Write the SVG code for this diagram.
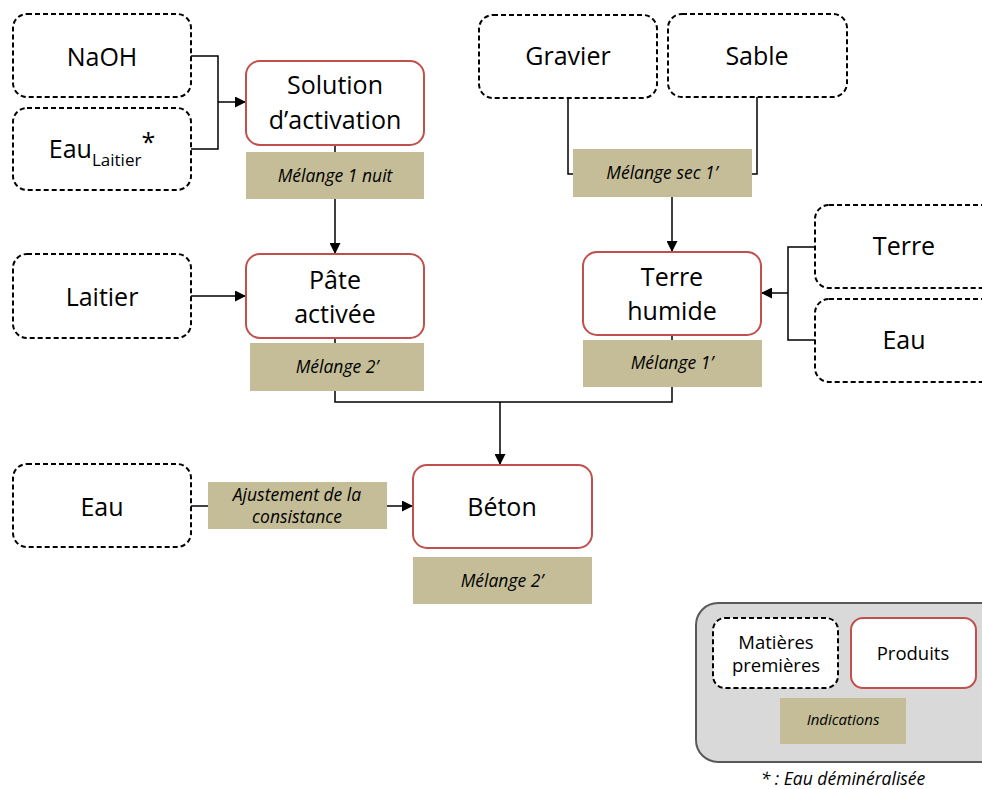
<svg xmlns="http://www.w3.org/2000/svg" width="982" height="789" viewBox="0 0 982 789">
<style>
.raw{fill:#fff;stroke:#000;stroke-width:2;stroke-dasharray:5 3}
.prod{fill:#fff;stroke:#C0504D;stroke-width:2}
.ind{fill:#C4BD97}
.t{font-family:"Open Sans","Noto Sans",sans-serif;font-size:25px;fill:#000;text-anchor:middle}
.i{font-family:"Open Sans","Noto Sans",sans-serif;font-size:17.5px;font-style:italic;fill:#000;text-anchor:middle}
.s{font-family:"Open Sans","Noto Sans",sans-serif;font-size:18.5px;fill:#000;text-anchor:middle}
.c{fill:none;stroke:#000;stroke-width:1.5}
</style>
<defs>
<marker id="ah" markerUnits="userSpaceOnUse" markerWidth="11" markerHeight="11" refX="11" refY="5.5" orient="auto">
<path d="M0,0 L11,5.5 L0,11 z" fill="#000"/>
</marker>
</defs>
<g id="connectors">
<path class="c" d="M191,56 H218 V149 H191"/>
<path class="c" d="M218,102 H246" marker-end="url(#ah)"/>
<path class="c" d="M335,145 V254" marker-end="url(#ah)"/>
<path class="c" d="M191,296 H246" marker-end="url(#ah)"/>
<path class="c" d="M568,98 V174 H573"/>
<path class="c" d="M757,97 V174 H752"/>
<path class="c" d="M672,160 V252" marker-end="url(#ah)"/>
<path class="c" d="M815,247 H788 V340 H815"/>
<path class="c" d="M788,293 H761" marker-end="url(#ah)"/>
<path class="c" d="M335,338 V402 H672 V335"/>
<path class="c" d="M500,402 V465" marker-end="url(#ah)"/>
<path class="c" d="M191,506 H413" marker-end="url(#ah)"/>
</g>
<g id="naoh"><rect class="raw" x="13" y="14" width="178" height="83" rx="14"/><text class="t" x="102" y="66">NaOH</text></g>
<g id="eau-laitier"><rect class="raw" x="13" y="108" width="178" height="82" rx="14"/><text class="t" x="102" y="158">Eau<tspan style="font-size:17px" dy="8">Laitier</tspan><tspan dy="-15">*</tspan></text></g>
<g id="solution"><rect class="prod" x="246" y="61" width="178" height="84" rx="14"/><text class="t" x="335" y="94">Solution</text><text class="t" x="335" y="129">d’activation</text></g>
<g id="ind-solution"><rect class="ind" x="246" y="152" width="178" height="47"/><text class="i" x="335" y="182">Mélange 1 nuit</text></g>
<g id="laitier"><rect class="raw" x="13" y="254" width="178" height="84" rx="14"/><text class="t" x="102" y="306">Laitier</text></g>
<g id="pate"><rect class="prod" x="246" y="254" width="178" height="84" rx="14"/><text class="t" x="335" y="289">Pâte</text><text class="t" x="335" y="323">activée</text></g>
<g id="ind-pate"><rect class="ind" x="250" y="343" width="174" height="48"/><text class="i" x="337" y="373">Mélange 2’</text></g>
<g id="gravier"><rect class="raw" x="479" y="15" width="178" height="83" rx="14"/><text class="t" x="568" y="65">Gravier</text></g>
<g id="sable"><rect class="raw" x="668" y="14" width="179" height="83" rx="14"/><text class="t" x="757" y="65">Sable</text></g>
<g id="ind-sec"><rect class="ind" x="573" y="149" width="179" height="48"/><text class="i" x="662" y="179">Mélange sec 1’</text></g>
<g id="terre-humide"><rect class="prod" x="583" y="252" width="178" height="83" rx="14"/><text class="t" x="672" y="286">Terre</text><text class="t" x="672" y="320">humide</text></g>
<g id="ind-terre"><rect class="ind" x="583" y="340" width="179" height="47"/><text class="i" x="672" y="369">Mélange 1’</text></g>
<g id="terre"><rect class="raw" x="815" y="205" width="180" height="83" rx="14"/><text class="t" x="904" y="255">Terre</text></g>
<g id="eau-terre"><rect class="raw" x="815" y="299" width="180" height="83" rx="14"/><text class="t" x="904" y="349">Eau</text></g>
<g id="eau-beton"><rect class="raw" x="13" y="464" width="178" height="83" rx="14"/><text class="t" x="102" y="516">Eau</text></g>
<g id="ind-ajust"><rect class="ind" x="208" y="482" width="179" height="47"/><text class="i" x="297" y="501">Ajustement de la</text><text class="i" x="297" y="523">consistance</text></g>
<g id="beton"><rect class="prod" x="413" y="465" width="179" height="83" rx="14"/><text class="t" x="502" y="516">Béton</text></g>
<g id="ind-beton"><rect class="ind" x="413" y="557" width="179" height="47"/><text class="i" x="502" y="587">Mélange 2’</text></g>
<g id="legend">
<rect x="696" y="603" width="310" height="159" rx="22" fill="#D9D9D9" stroke="#595959" stroke-width="2"/>
<rect class="raw" x="713" y="618" width="125" height="70" rx="12"/>
<text class="s" x="776" y="649">Matières</text><text class="s" x="776" y="672">premières</text>
<rect class="prod" x="851" y="618" width="125" height="70" rx="12"/>
<text class="s" x="913" y="660">Produits</text>
<rect class="ind" x="780" y="698" width="126" height="46"/>
<text class="i" x="843" y="725" style="font-size:15px">Indications</text>
</g>
<text class="i" x="843" y="785">* : Eau déminéralisée</text>
</svg>
